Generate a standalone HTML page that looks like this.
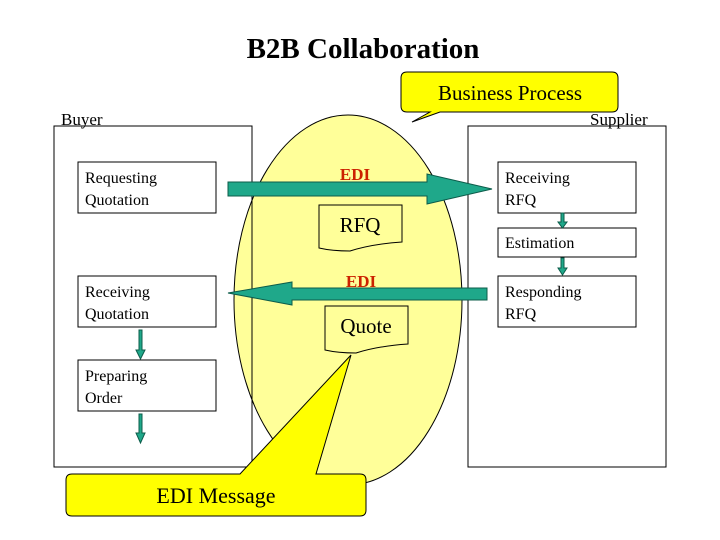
<!DOCTYPE html>
<html><head><style>body{margin:0;background:#fff}svg{display:block}text{font-family:"Liberation Serif",serif}</style></head><body>
<svg width="720" height="540" viewBox="0 0 720 540" xmlns="http://www.w3.org/2000/svg">
<text x="363" y="58" font-size="29" font-weight="bold" text-anchor="middle">B2B Collaboration</text>
<ellipse cx="348" cy="300" rx="114" ry="185" fill="#ffff99" stroke="#000" stroke-width="1"/>
<text x="61" y="125" font-size="17">Buyer</text>
<text x="590" y="125" font-size="17">Supplier</text>
<rect x="54" y="126" width="198" height="341" fill="none" stroke="#000"/>
<rect x="468" y="126" width="198" height="341" fill="none" stroke="#000"/>
<g fill="#fff" stroke="#000">
<rect x="78" y="162" width="138" height="51"/>
<rect x="78" y="276" width="138" height="51"/>
<rect x="78" y="360" width="138" height="51"/>
<rect x="498" y="162" width="138" height="51"/>
<rect x="498" y="228" width="138" height="29"/>
<rect x="498" y="276" width="138" height="51"/>
</g>
<g font-size="16">
<text x="85" y="183">Requesting</text><text x="85" y="205">Quotation</text>
<text x="85" y="297">Receiving</text><text x="85" y="319">Quotation</text>
<text x="85" y="381">Preparing</text><text x="85" y="403">Order</text>
<text x="505" y="183">Receiving</text><text x="505" y="205">RFQ</text>
<text x="505" y="248">Estimation</text>
<text x="505" y="297">Responding</text><text x="505" y="319">RFQ</text>
</g>
<g fill="#1fa88a" stroke="#0c5c4a" stroke-width="1">
<polygon points="228,182 427,182 427,174 492,189 427,204 427,196 228,196"/>
<polygon points="228,293 292,282 292,288 487,288 487,300 292,300 292,305"/>
<polygon points="139,330 142,330 142,350 145,350 140.5,359 136,350 139,350"/>
<polygon points="139,414 142,414 142,433 145,433 140.5,443 136,433 139,433"/>
<polygon points="561,213 564,213 564,222 567,222 562.5,228 558,222 561,222"/>
<polygon points="561,258 564,258 564,268 567,268 562.5,275 558,268 561,268"/>
</g>
<g fill="#cc2200" font-size="17" font-weight="bold" text-anchor="middle">
<text x="355" y="180">EDI</text><text x="361" y="287">EDI</text>
</g>
<path d="M319,205 H402 V242 Q372,244 350,251 Q332,251 319,248 Z" fill="#ffff99" stroke="#000"/>
<text x="360" y="232" font-size="21" text-anchor="middle">RFQ</text>
<path d="M325,306 H408 V344 Q378,346 356,353 Q338,353 325,350 Z" fill="#ffff99" stroke="#000"/>
<text x="366" y="333" font-size="21" text-anchor="middle">Quote</text>
<path d="M407,72 H612 Q618,72 618,78 V106 Q618,112 612,112 H440 L412,122 L430,112 H407 Q401,112 401,106 V78 Q401,72 407,72 Z" fill="#ffff00" stroke="#000"/>
<text x="510" y="100" font-size="21" text-anchor="middle">Business Process</text>
<path d="M72,474 H240 L351,355 L316,474 H360 Q366,474 366,480 V510 Q366,516 360,516 H72 Q66,516 66,510 V480 Q66,474 72,474 Z" fill="#ffff00" stroke="#000"/>
<text x="216" y="503" font-size="22" text-anchor="middle">EDI Message</text>
</svg>
</body></html>
